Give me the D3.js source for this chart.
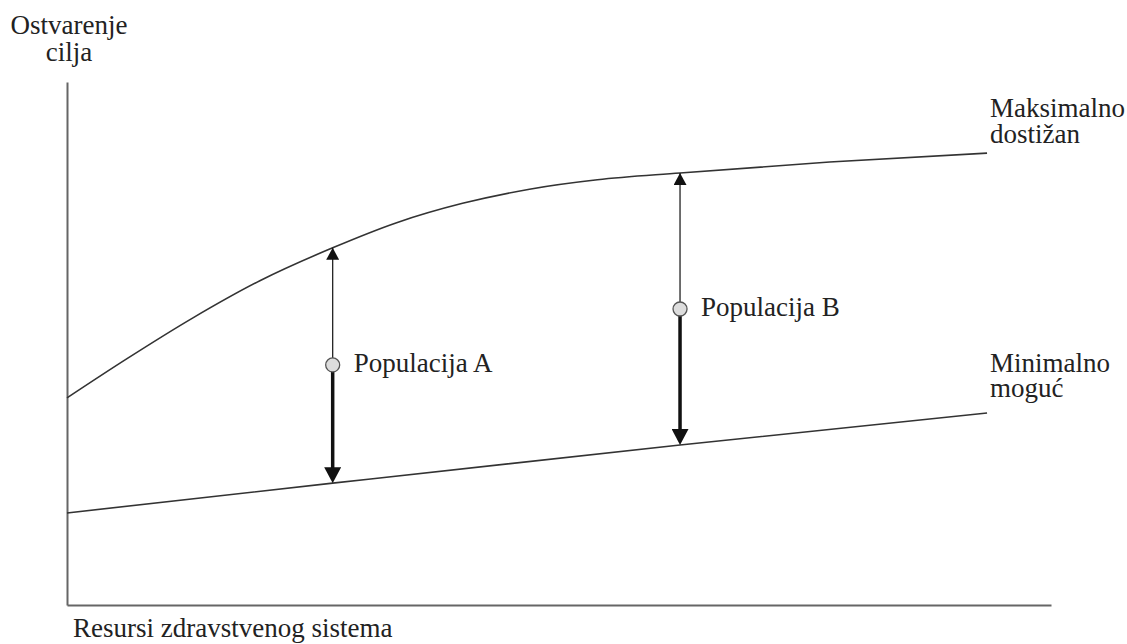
<!DOCTYPE html>
<html lang="sr">
<head>
    <meta charset="utf-8">
    <title>Ostvarenje cilja</title>
    <script src="https://cdnjs.cloudflare.com/ajax/libs/d3/7.8.5/d3.min.js"></script>
    <style>
        body { margin: 0; background: #fff; }
        svg { display: block; }
    </style>
</head>
<body>
    <svg id="chart"></svg>

    <script>
        // resources (0-100) and goal attainment (0-100)
        const maxX = [0, 6.1, 12.8, 19.6, 27, 33.5, 40.2, 47, 53.9, 62.3, 77.5, 93.5];
        const maxY = [39.6, 47.1, 54.9, 62.0, 68.3, 73.1, 76.8, 79.5, 81.3, 82.6, 84.7, 86.4];
        const minX = [0, 27, 62.3, 93.5];
        const minY = [17.6, 23.3, 30.6, 36.7];

        const popNames = ['Populacija A', 'Populacija B'];
        const popX = [27, 62.3];
        const popTop = [68.3, 82.6];
        const popMid = [45.9, 56.6];
        const popBottom = [23.3, 30.6];

        const width = 1127;
        const height = 644;

        const svg = d3.select('#chart')
            .attr('width', width)
            .attr('height', height);

        const x = d3.scaleLinear().domain([0, 100]).range([67, 1051]);
        const y = d3.scaleLinear().domain([0, 100]).range([605, 82]);

        // arrow heads
        const defs = svg.append('defs');
        defs.append('marker')
            .attr('id', 'headUp')
            .attr('markerUnits', 'userSpaceOnUse')
            .attr('viewBox', '0 0 13 12')
            .attr('markerWidth', 13).attr('markerHeight', 12)
            .attr('refX', 6.5).attr('refY', 0)
            .attr('orient', 0)
            .append('path')
            .attr('d', 'M6.5,0 L13,12 L0,12 Z')
            .attr('fill', '#111');
        defs.append('marker')
            .attr('id', 'headDown')
            .attr('markerUnits', 'userSpaceOnUse')
            .attr('viewBox', '0 0 17 16')
            .attr('markerWidth', 17).attr('markerHeight', 16)
            .attr('refX', 8.5).attr('refY', 16)
            .attr('orient', 0)
            .append('path')
            .attr('d', 'M0,0 L17,0 L8.5,16 Z')
            .attr('fill', '#111');

        // axes, no ticks
        svg.append('g')
            .attr('transform', `translate(${x(0)},0)`)
            .call(d3.axisLeft(y).tickValues([]).tickSizeOuter(0))
            .call(g => g.select('.domain').attr('stroke', '#666').attr('stroke-width', 2));
        svg.append('g')
            .attr('transform', `translate(0,${y(0)})`)
            .call(d3.axisBottom(x).tickValues([]).tickSizeOuter(0))
            .call(g => g.select('.domain').attr('stroke', '#666').attr('stroke-width', 2));

        const line = d3.line()
            .x(d => x(d[0]))
            .y(d => y(d[1]))
            .curve(d3.curveMonotoneX);

        svg.append('path')
            .datum(d3.zip(maxX, maxY))
            .attr('d', line)
            .attr('fill', 'none')
            .attr('stroke', '#333')
            .attr('stroke-width', 1.6);

        svg.append('path')
            .datum(d3.zip(minX, minY))
            .attr('d', line)
            .attr('fill', 'none')
            .attr('stroke', '#333')
            .attr('stroke-width', 1.6);

        // one text element per label, extra lines as tspans
        function label(px, py, lines, anchor, gap) {
            const t = svg.append('text')
                .attr('x', px).attr('y', py)
                .attr('text-anchor', anchor || 'start')
                .style('font-family', "'Liberation Serif', serif")
                .style('font-size', '27px')
                .style('fill', '#222');
            [].concat(lines).forEach((s, i) => {
                t.append('tspan')
                    .attr('x', px)
                    .attr('dy', i ? gap : 0)
                    .text(s);
            });
        }

        // population arrows
        popNames.forEach((name, i) => {
            const g = svg.append('g');
            g.append('line')
                .attr('x1', x(popX[i])).attr('x2', x(popX[i]))
                .attr('y1', y(popMid[i])).attr('y2', y(popTop[i]))
                .attr('stroke', '#222').attr('stroke-width', 1.3)
                .attr('marker-end', 'url(#headUp)');
            g.append('line')
                .attr('x1', x(popX[i])).attr('x2', x(popX[i]))
                .attr('y1', y(popMid[i])).attr('y2', y(popBottom[i]) - 8)
                .attr('stroke', '#111').attr('stroke-width', 3.5);
            g.append('line')
                .attr('x1', x(popX[i])).attr('x2', x(popX[i]))
                .attr('y1', y(popBottom[i]) - 9).attr('y2', y(popBottom[i]))
                .attr('stroke', 'none')
                .attr('marker-end', 'url(#headDown)');
            g.append('circle')
                .attr('cx', x(popX[i])).attr('cy', y(popMid[i]))
                .attr('r', 7)
                .attr('fill', '#ddd')
                .attr('stroke', '#555')
                .attr('stroke-width', 1.3);
            label(x(popX[i]) + 21, y(popMid[i]) + 7, name);
        });

        // labels
        label(69, 34, ['Ostvarenje', 'cilja'], 'middle', 27);
        label(990, 117, ['Maksimalno', 'dostižan'], 'start', 26);
        label(990, 372, ['Minimalno', 'moguć'], 'start', 25);
        label(73, 637, 'Resursi zdravstvenog sistema');
    </script>
</body>
</html>
